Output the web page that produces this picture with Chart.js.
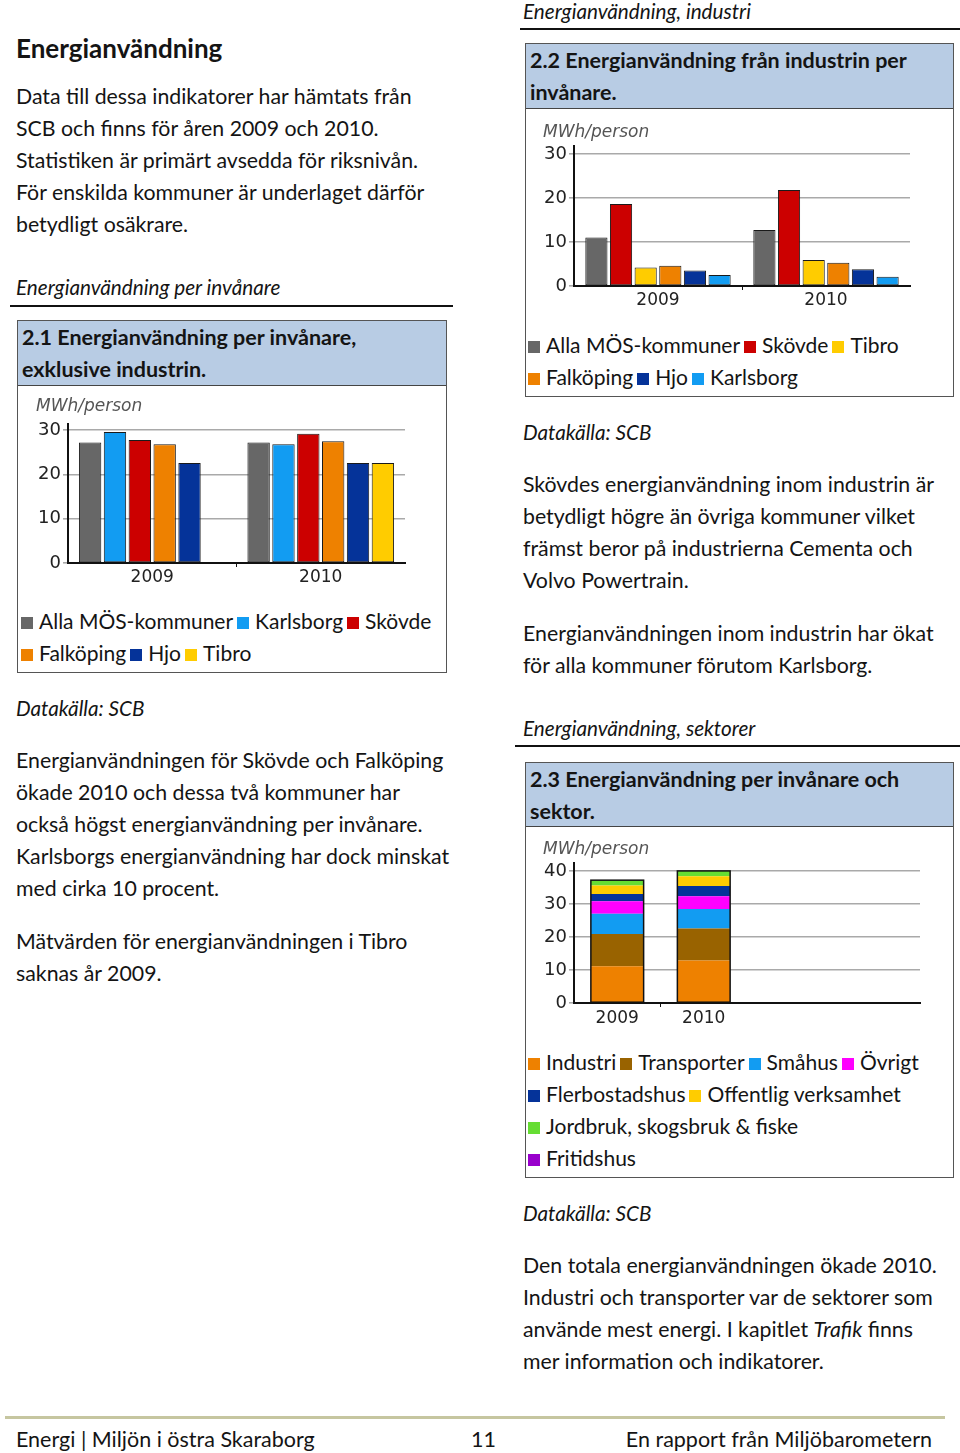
<!DOCTYPE html>
<html lang="sv">
<head>
<meta charset="utf-8">
<title>Energianvändning</title>
<script src="https://cdn.jsdelivr.net/npm/chart.js@4.4.1/dist/chart.umd.min.js"></script>
<style>
  body { margin: 0; background: #fff; }
  #page { position: relative; width: 960px; height: 1453px; font-family: Lato, "Open Sans", sans-serif; color: #141414; font-size: 21.3px; overflow: hidden; }
  .t { position: absolute; line-height: 32px; white-space: nowrap; }
  .h1 { font-weight: bold; font-size: 26px; }
  .it { font-style: italic; font-size: 20.7px; }
  .rule { position: absolute; height: 2px; background: #111; }
  .box { position: absolute; border: 1px solid #555; background: #fff; box-sizing: border-box; }
  .band { position: absolute; left: 0; right: 0; top: 0; background: #b8cce4; border-bottom: 1px solid #444; }
  .band div { position: absolute; left: 4px; top: 0; font-weight: bold; font-size: 21.5px; line-height: 32px; white-space: nowrap; }
  canvas { position: absolute; }
  .legend { position: absolute; line-height: 32px; white-space: nowrap; font-size: 21px; }
  .legend i { display: inline-block; width: 12px; height: 12px; margin-right: 6px; vertical-align: 0px; }
  .legend span { margin-right: 4px; }
  .footrule { position: absolute; left: 5px; width: 940px; top: 1416px; height: 3px; background: #c6c6a0; }
  .foot { font-size: 21.5px; }
</style>
</head>
<body>
<div id="page">
  <!-- vänster spalt -->
  <div class="t h1" style="left:16px;top:32px;">Energianvändning</div>
  <div class="t" style="left:16px;top:80px;">Data till dessa indikatorer har hämtats från<br>SCB och finns för åren 2009 och 2010.<br>Statistiken är primärt avsedda för riksnivån.<br>För enskilda kommuner är underlaget därför<br>betydligt osäkrare.</div>
  <div class="t it" style="left:16px;top:271px;">Energianvändning per invånare</div>
  <div class="rule" style="left:10px;width:443px;top:305px;"></div>

  <div class="box" style="left:17px;top:320px;width:430px;height:353px;">
    <div class="band" style="height:64px;"><div>2.1 Energianvändning per invånare,<br>exklusive industrin.</div></div>
  </div>
  <canvas id="chart1" width="428" height="214" style="left:18px;top:386px;"></canvas>
  <div class="legend" id="legend1" style="left:21px;top:605px;"></div>

  <div class="t it" style="left:16px;top:692px;">Datakälla: SCB</div>
  <div class="t" style="left:16px;top:744px;">Energianvändningen för Skövde och Falköping<br>ökade 2010 och dessa två kommuner har<br>också högst energianvändning per invånare.<br>Karlsborgs energianvändning har dock minskat<br>med cirka 10 procent.</div>
  <div class="t" style="left:16px;top:925px;">Mätvärden för energianvändningen i Tibro<br>saknas år 2009.</div>

  <!-- höger spalt -->
  <div class="t it" style="left:523px;top:-5px;">Energianvändning, industri</div>
  <div class="rule" style="left:520px;width:440px;top:28px;"></div>

  <div class="box" style="left:525px;top:43px;width:429px;height:354px;">
    <div class="band" style="height:64px;"><div>2.2 Energianvändning från industrin per<br>invånare.</div></div>
  </div>
  <canvas id="chart2" width="426" height="210" style="left:526px;top:109px;"></canvas>
  <div class="legend" id="legend2" style="left:528px;top:329px;"></div>

  <div class="t it" style="left:523px;top:416px;">Datakälla: SCB</div>
  <div class="t" style="left:523px;top:468px;">Skövdes energianvändning inom industrin är<br>betydligt högre än övriga kommuner vilket<br>främst beror på industrierna Cementa och<br>Volvo Powertrain.</div>
  <div class="t" style="left:523px;top:617px;">Energianvändningen inom industrin har ökat<br>för alla kommuner förutom Karlsborg.</div>

  <div class="t it" style="left:523px;top:712px;">Energianvändning, sektorer</div>
  <div class="rule" style="left:515px;width:445px;top:745px;"></div>

  <div class="box" style="left:525px;top:762px;width:429px;height:416px;">
    <div class="band" style="height:63px;"><div>2.3 Energianvändning per invånare och<br>sektor.</div></div>
  </div>
  <canvas id="chart3" width="426" height="210" style="left:526px;top:827px;"></canvas>
  <div class="legend" id="legend3" style="left:528px;top:1046px;"></div>

  <div class="t it" style="left:523px;top:1197px;">Datakälla: SCB</div>
  <div class="t" style="left:523px;top:1249px;">Den totala energianvändningen ökade 2010.<br>Industri och transporter var de sektorer som<br>använde mest energi. I kapitlet <i>Trafik</i> finns<br>mer information och indikatorer.</div>

  <!-- sidfot -->
  <div class="footrule"></div>
  <div class="t foot" style="left:16px;top:1423px;">Energi | Miljön i östra Skaraborg</div>
  <div class="t foot" style="left:471px;top:1423px;">11</div>
  <div class="t foot" style="right:28px;top:1423px;">En rapport från Miljöbarometern</div>
</div>

<script>
// Årtal och tickvärden
const years = ['2009', '2010'];
const sectorYears = ['2009', '2010', '', ''];
const yTicks30 = [0, 10, 20, 30];
const yTicks40 = [0, 10, 20, 30, 40];

// 2.1 Energianvändning per invånare exkl. industri (MWh/person)
const exclNames = ['Alla MÖS-kommuner', 'Karlsborg', 'Skövde', 'Falköping', 'Hjo', 'Tibro'];
const exclAlla = [27.2, 27.2];
const exclKarlsborg = [29.6, 26.8];
const exclSkovde = [27.8, 29.2];
const exclFalkoping = [26.8, 27.5];
const exclHjo = [22.6, 22.6];
const exclTibro = [0, 22.6];

// 2.2 Energianvändning från industrin per invånare (MWh/person)
const indNames = ['Alla MÖS-kommuner', 'Skövde', 'Tibro', 'Falköping', 'Hjo', 'Karlsborg'];
const indAlla = [11.0, 12.7];
const indSkovde = [18.6, 21.8];
const indTibro = [4.2, 5.9];
const indFalkoping = [4.6, 5.3];
const indHjo = [3.5, 3.8];
const indKarlsborg = [2.5, 2.1];

// 2.3 Energianvändning per invånare och sektor (MWh/person)
const sectorNames = ['Industri', 'Transporter', 'Småhus', 'Övrigt', 'Flerbostadshus', 'Offentlig verksamhet', 'Jordbruk, skogsbruk & fiske', 'Fritidshus'];
const secIndustri = [11.1, 12.9];
const secTransporter = [9.8, 9.7];
const secSmahus = [6.1, 5.9];
const secOvrigt = [3.8, 3.8];
const secFlerbostad = [2.2, 3.1];
const secOffentlig = [2.6, 3.0];
const secJordbruk = [1.6, 1.6];
const secFritidshus = [0, 0];

// Färger
const colors = {
  'Alla MÖS-kommuner': '#676767',
  'Karlsborg': '#129cf2',
  'Skövde': '#cc0000',
  'Falköping': '#ee8100',
  'Hjo': '#053399',
  'Tibro': '#ffcc00',
  'Industri': '#ee8100',
  'Transporter': '#996300',
  'Småhus': '#129cf2',
  'Övrigt': '#ff00ff',
  'Flerbostadshus': '#053399',
  'Offentlig verksamhet': '#ffcc00',
  'Jordbruk, skogsbruk & fiske': '#66dd33',
  'Fritidshus': '#9900cc'
};

const chartFont = 'DejaVu Sans';

// Ram runt hela staplade stapeln
const stackOutline = {
  id: 'stackOutline',
  afterDatasetsDraw(chart) {
    if (!chart.options.plugins.stackOutline) return;
    const ctx = chart.ctx;
    const n = chart.data.labels.length;
    for (let i = 0; i < n; i++) {
      let top = null, base = null, x = null, w = null;
      chart.data.datasets.forEach((ds, d) => {
        const el = chart.getDatasetMeta(d).data[i];
        if (!el || ds.data[i] == null) return;
        top = top === null ? el.y : Math.min(top, el.y);
        base = base === null ? el.base : Math.max(base, el.base);
        x = el.x; w = el.width;
      });
      if (top === null || base === top) continue;
      ctx.save();
      ctx.strokeStyle = '#111';
      ctx.lineWidth = 1.5;
      ctx.strokeRect(x - w / 2, top, w, base - top);
      ctx.restore();
    }
  }
};

function makeChart(id, labels, names, series, cfg) {
  const ctx = document.getElementById(id).getContext('2d');
  return new Chart(ctx, {
    type: 'bar',
    data: {
      labels: labels,
      datasets: names.map((name, i) => ({
        label: name,
        data: series[i],
        backgroundColor: colors[name],
        borderColor: '#1a1a1a',
        borderWidth: cfg.stacked ? 0 : 1,
        borderSkipped: false,
        categoryPercentage: cfg.catPct,
        barPercentage: cfg.barPct
      }))
    },
    options: {
      responsive: false,
      animation: false,
      layout: { padding: { left: cfg.padLeft, right: cfg.padRight, top: 0, bottom: 0 } },
      plugins: {
        legend: { display: false },
        tooltip: { enabled: false },
        stackOutline: cfg.stacked,
        title: {
          display: true,
          text: 'MWh/person',
          align: 'start',
          color: '#555',
          font: { family: chartFont, size: 17, style: 'italic', weight: 'normal', lineHeight: '18px' },
          padding: { top: cfg.titleTop, bottom: cfg.titleBottom }
        }
      },
      scales: {
        x: {
          stacked: cfg.stacked,
          afterFit: s => { s.height = cfg.xHeight; },
          border: { color: '#111', width: 2 },
          grid: {
            drawOnChartArea: false,
            tickLength: 4,
            color: c => (c.index === 1 ? '#111' : 'rgba(0,0,0,0)')
          },
          ticks: { color: '#222', padding: cfg.xPad, font: { family: chartFont, size: 17 } }
        },
        y: {
          stacked: cfg.stacked,
          min: 0,
          max: cfg.yMax,
          afterFit: s => { s.width = cfg.yWidth; },
          afterBuildTicks: s => { s.ticks = cfg.ticks.map(v => ({ value: v })); },
          border: { color: '#111', width: 2 },
          grid: { color: '#a9a9a9', lineWidth: 1.6, tickLength: 5 },
          ticks: { color: '#222', padding: 2, font: { family: chartFont, size: 18 } }
        }
      }
    },
    plugins: [stackOutline]
  });
}

function makeLegend(id, names, rows) {
  const el = document.getElementById(id);
  el.innerHTML = rows.map(row => row.map(i =>
    '<span><i style="background:' + colors[names[i]] + '"></i>' + names[i] + '</span>'
  ).join('')).join('<br>');
}

makeChart('chart1', years, exclNames,
  [exclAlla, exclKarlsborg, exclSkovde, exclFalkoping, exclHjo, exclTibro],
  { stacked: false, catPct: 0.885, barPct: 0.9, padLeft: 18, padRight: 41, yWidth: 32,
    titleTop: 12, titleBottom: 8, xHeight: 37, xPad: 0, yMax: 31.4, ticks: yTicks30 });

makeChart('chart2', years, indNames,
  [indAlla, indSkovde, indTibro, indFalkoping, indHjo, indKarlsborg],
  { stacked: false, catPct: 0.88, barPct: 0.9, padLeft: 17, padRight: 42, yWidth: 31,
    titleTop: 15, titleBottom: 4, xHeight: 33, xPad: 0, yMax: 31.8, ticks: yTicks30 });

makeChart('chart3', sectorYears, sectorNames,
  [secIndustri, secTransporter, secSmahus, secOvrigt, secFlerbostad, secOffentlig, secJordbruk, secFritidshus],
  { stacked: true, catPct: 0.61, barPct: 1, padLeft: 17, padRight: 32, yWidth: 31,
    titleTop: 14, titleBottom: 4, xHeight: 34, xPad: 1, yMax: 42.4, ticks: yTicks40 });

makeLegend('legend1', exclNames, [[0, 1, 2], [3, 4, 5]]);
makeLegend('legend2', indNames, [[0, 1, 2], [3, 4, 5]]);
makeLegend('legend3', sectorNames, [[0, 1, 2, 3], [4, 5], [6], [7]]);
</script>
</body>
</html>
